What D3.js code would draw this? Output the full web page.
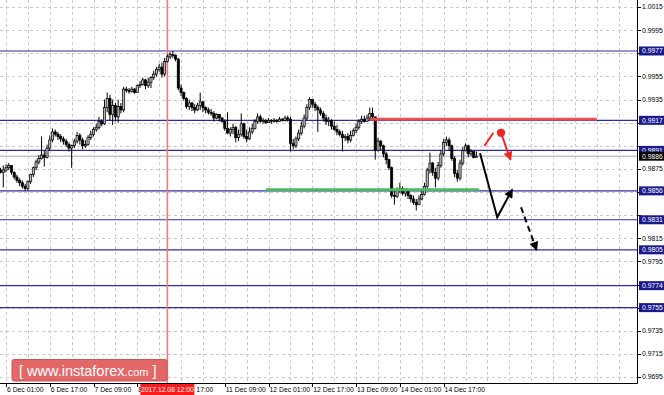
<!DOCTYPE html>
<html>
<head>
<meta charset="utf-8">
<script src="https://cdn.jsdelivr.net/npm/d3@7"></script>
<style>
    body { margin: 0; background: #fff; }
    svg { display: block; font-family: "Liberation Sans", Arial, sans-serif; }
</style>
</head>
<body>
<script>
// hourly candles, first one is bar -2 (5 Dec 23:00), open of that bar below
var firstBar = -2;
var firstOpen = 0.9874;

var closes = [
    0.9872, 0.9874, 0.9876, 0.9878, 0.9872, 0.9868, 0.9865, 0.9863, 0.9860, 0.9858,
    0.9864, 0.9870, 0.9876, 0.9881, 0.9884, 0.9887, 0.9885, 0.9893, 0.9900, 0.9907,
    0.9905, 0.9903, 0.9901, 0.9899, 0.9896, 0.9893, 0.9895, 0.9899, 0.9904, 0.9900,
    0.9895, 0.9896, 0.9902, 0.9905, 0.9909, 0.9911, 0.9916, 0.9914, 0.9928, 0.9936,
    0.9922, 0.9930, 0.9920, 0.9929, 0.9926, 0.9944, 0.9943, 0.9942, 0.9944, 0.9941,
    0.9947, 0.9948, 0.9952, 0.9947, 0.9950, 0.9954, 0.9957, 0.9961, 0.9963, 0.9957,
    0.9968, 0.9972, 0.9974, 0.9973, 0.9970, 0.9945, 0.9941, 0.9936, 0.9929, 0.9932,
    0.9928, 0.9926, 0.9930, 0.9933, 0.9928, 0.9926, 0.9924, 0.9923, 0.9919, 0.9922,
    0.9919, 0.9916, 0.9910, 0.9906, 0.9909, 0.9911, 0.9902, 0.9905, 0.9914, 0.9903,
    0.9901, 0.9907, 0.9910, 0.9916, 0.9920, 0.9916, 0.9917, 0.9915, 0.9917, 0.9916,
    0.9917, 0.9916, 0.9918, 0.9917, 0.9919, 0.9918, 0.9897, 0.9895, 0.9901, 0.9906,
    0.9912, 0.9919, 0.9928, 0.9935, 0.9931, 0.9928, 0.9926, 0.9923, 0.9919, 0.9916,
    0.9917, 0.9912, 0.9909, 0.9907, 0.9905, 0.9902, 0.9903, 0.9900, 0.9904, 0.9908,
    0.9911, 0.9916, 0.9918, 0.9916, 0.9919, 0.9923, 0.9920, 0.9891, 0.9899, 0.9895,
    0.9888, 0.9883, 0.9876, 0.9852, 0.9851, 0.9857, 0.9858, 0.9854, 0.9856, 0.9852,
    0.9849, 0.9846, 0.9844, 0.9849, 0.9853, 0.9860, 0.9874, 0.9880, 0.9872, 0.9867,
    0.9878, 0.9888, 0.9898, 0.9900, 0.9895, 0.9884, 0.9871, 0.9867, 0.9880, 0.9891,
    0.9895, 0.9888, 0.9890, 0.9885, 0.9886
];

var highs = [
    0.9876, 0.9878, 0.9879, 0.9880, 0.9878, 0.9873, 0.9870, 0.9867, 0.9865, 0.9862,
    0.9865, 0.9871, 0.9877, 0.9883, 0.9887, 0.9903, 0.9891, 0.9896, 0.9904, 0.9910,
    0.9909, 0.9907, 0.9905, 0.9903, 0.9901, 0.9898, 0.9896, 0.9901, 0.9907, 0.9906,
    0.9902, 0.9900, 0.9904, 0.9908, 0.9911, 0.9914, 0.9920, 0.9918, 0.9935, 0.9941,
    0.9939, 0.9935, 0.9932, 0.9935, 0.9932, 0.9946, 0.9946, 0.9945, 0.9946, 0.9945,
    0.9948, 0.9951, 0.9954, 0.9953, 0.9954, 0.9955, 0.9960, 0.9963, 0.9966, 0.9967,
    0.9971, 0.9974, 0.9976, 0.9977, 0.9974, 0.9971, 0.9948, 0.9942, 0.9937, 0.9935,
    0.9933, 0.9931, 0.9932, 0.9941, 0.9934, 0.9929, 0.9928, 0.9927, 0.9925, 0.9923,
    0.9922, 0.9920, 0.9918, 0.9924, 0.9911, 0.9914, 0.9912, 0.9909, 0.9923, 0.9915,
    0.9909, 0.9911, 0.9914, 0.9918, 0.9923, 0.9922, 0.9919, 0.9918, 0.9919, 0.9918,
    0.9919, 0.9918, 0.9920, 0.9919, 0.9921, 0.9921, 0.9920, 0.9901, 0.9903, 0.9909,
    0.9916, 0.9922, 0.9931, 0.9937, 0.9935, 0.9933, 0.9930, 0.9928, 0.9925, 0.9922,
    0.9920, 0.9918, 0.9916, 0.9913, 0.9909, 0.9908, 0.9905, 0.9906, 0.9908, 0.9910,
    0.9914, 0.9918, 0.9921, 0.9921, 0.9922, 0.9928, 0.9928, 0.9920, 0.9902, 0.9900,
    0.9896, 0.9890, 0.9884, 0.9877, 0.9858, 0.9859, 0.9863, 0.9860, 0.9858, 0.9857,
    0.9853, 0.9852, 0.9849, 0.9852, 0.9856, 0.9863, 0.9876, 0.9889, 0.9881, 0.9876,
    0.9881, 0.9891, 0.9901, 0.9903, 0.9902, 0.9896, 0.9886, 0.9874, 0.9883, 0.9894,
    0.9897, 0.9896, 0.9892, 0.9890, 0.9890
];

var lows = [
    0.9871, 0.9859, 0.9872, 0.9874, 0.9870, 0.9866, 0.9863, 0.9860, 0.9858, 0.9856,
    0.9856, 0.9862, 0.9868, 0.9874, 0.9879, 0.9883, 0.9877, 0.9884, 0.9891, 0.9898,
    0.9903, 0.9900, 0.9898, 0.9896, 0.9894, 0.9890, 0.9876, 0.9893, 0.9897, 0.9896,
    0.9892, 0.9893, 0.9895, 0.9900, 0.9903, 0.9907, 0.9909, 0.9912, 0.9913, 0.9924,
    0.9917, 0.9913, 0.9916, 0.9915, 0.9923, 0.9924, 0.9941, 0.9940, 0.9941, 0.9940,
    0.9941, 0.9945, 0.9947, 0.9944, 0.9945, 0.9945, 0.9952, 0.9955, 0.9959, 0.9954,
    0.9955, 0.9967, 0.9970, 0.9971, 0.9968, 0.9943, 0.9938, 0.9934, 0.9927, 0.9926,
    0.9925, 0.9923, 0.9925, 0.9926, 0.9924, 0.9923, 0.9922, 0.9921, 0.9916, 0.9918,
    0.9916, 0.9915, 0.9908, 0.9905, 0.9903, 0.9905, 0.9898, 0.9899, 0.9903, 0.9901,
    0.9898, 0.9900, 0.9905, 0.9909, 0.9914, 0.9915, 0.9914, 0.9914, 0.9915, 0.9914,
    0.9915, 0.9915, 0.9916, 0.9916, 0.9916, 0.9916, 0.9890, 0.9892, 0.9893, 0.9899,
    0.9904, 0.9910, 0.9917, 0.9926, 0.9928, 0.9925, 0.9907, 0.9921, 0.9916, 0.9913,
    0.9912, 0.9909, 0.9908, 0.9904, 0.9903, 0.9890, 0.9899, 0.9897, 0.9898, 0.9903,
    0.9906, 0.9909, 0.9914, 0.9915, 0.9916, 0.9917, 0.9917, 0.9883, 0.9890, 0.9891,
    0.9885, 0.9879, 0.9874, 0.9850, 0.9844, 0.9850, 0.9854, 0.9852, 0.9851, 0.9849,
    0.9846, 0.9844, 0.9839, 0.9845, 0.9848, 0.9852, 0.9857, 0.9871, 0.9869, 0.9859,
    0.9865, 0.9876, 0.9886, 0.9895, 0.9891, 0.9882, 0.9868, 0.9864, 0.9865, 0.9878,
    0.9890, 0.9885, 0.9886, 0.9884, 0.9885
];

var xTickBars = [0, 16, 32, 48, 64, 80, 96, 112, 128, 144, 160];
var xTickLabels = ["6 Dec 01:00", "6 Dec 17:00", "7 Dec 09:00", "8 Dec 01:00", "8 Dec 17:00",
    "11 Dec 09:00", "12 Dec 01:00", "12 Dec 17:00", "13 Dec 09:00", "14 Dec 01:00", "14 Dec 17:00"];
var yTickLabels = ["1.0015", "0.9995", "0.9975", "0.9955", "0.9935", "0.9915", "0.9895", "0.9875",
    "0.9855", "0.9835", "0.9815", "0.9795", "0.9775", "0.9755", "0.9735", "0.9715", "0.9695"];

var levelPrices = [0.9977, 0.9917, 0.9891, 0.9856, 0.9831, 0.9805, 0.9774, 0.9755];
var levelLabels = ["0.9977", "0.9917", "0.9891", "0.9856", "0.9831", "0.9805", "0.9774", "0.9755"];
var bidPrice = 0.9886;
var bidLabel = "0.9886";

var markerBar = 59;
var markerLabel = "2017.12.08 12:00";

// [bar, price] pairs
var resistanceLine = [[133, 0.9918], [216, 0.9918]];
var supportLine = [[95, 0.9857], [173, 0.9857]];
var mainPath = [[173.3, 0.98885], [179.6, 0.98331], [185.1, 0.98573]];
var dashPath = [[188.3, 0.98418], [194.0, 0.98048]];
var redPath = [[174.9, 0.98948], [178.2, 0.99063]];
var redArrow = [[181.0, 0.99062], [184.5, 0.98827]];

var W = 664, H = 395;
var plotRight = 637, plotBottom = 383;

var x = d3.scaleLinear()
    .domain([-2.194, 230.7])
    .range([0, plotRight]);

var y = d3.scaleLinear()
    .domain([0.96898, 1.00211])
    .range([plotBottom, 0]);

var svg = d3.select("body").append("svg")
    .attr("width", W)
    .attr("height", H);

svg.append("rect").attr("width", W).attr("height", H).attr("fill", "#fff");

var defs = svg.append("defs");
function arrowMarker(id, color) {
    defs.append("marker")
        .attr("id", id)
        .attr("viewBox", "0 0 10 10")
        .attr("refX", 9)
        .attr("refY", 5)
        .attr("markerUnits", "userSpaceOnUse")
        .attr("markerWidth", 10)
        .attr("markerHeight", 9)
        .attr("orient", "auto")
        .append("path")
        .attr("d", "M0,0 L10,5 L0,10 Z")
        .attr("fill", color);
}
arrowMarker("headBlack", "#000");
arrowMarker("headRed", "#ee2626");

// grid
var grid = svg.append("g");
var yTicks = yTickLabels.map(function (d) { return +d; });
grid.selectAll(".hgrid")
    .data(yTicks)
    .enter()
    .append("line")
    .attr("x1", 0)
    .attr("x2", plotRight)
    .attr("y1", function (d) { return Math.round(y(d)) + 0.5; })
    .attr("y2", function (d) { return Math.round(y(d)) + 0.5; })
    .attr("stroke", "#c8c8c8")
    .attr("stroke-dasharray", "3,3");

var gridBars = [];
for (var b = 0; x(b) < plotRight; b += 8) gridBars.push(b);
grid.selectAll(".vgrid")
    .data(gridBars)
    .enter()
    .append("line")
    .attr("x1", function (d) { return Math.round(x(d)) + 0.5; })
    .attr("x2", function (d) { return Math.round(x(d)) + 0.5; })
    .attr("y1", 0)
    .attr("y2", plotBottom)
    .attr("stroke", "#c8c8c8")
    .attr("stroke-dasharray", "3,3");

// level lines
svg.selectAll(".level")
    .data(levelPrices)
    .enter()
    .append("line")
    .attr("x1", 0)
    .attr("x2", plotRight)
    .attr("y1", function (d) { return y(d); })
    .attr("y2", function (d) { return y(d); })
    .attr("stroke", "#2c2ca0")
    .attr("stroke-width", 1.2);

svg.append("line")
    .attr("x1", 0).attr("x2", plotRight)
    .attr("y1", y(bidPrice)).attr("y2", y(bidPrice))
    .attr("stroke", "#c4c4c4")
    .attr("stroke-width", 1.5);

svg.append("line")
    .attr("x1", x(markerBar)).attr("x2", x(markerBar))
    .attr("y1", 0).attr("y2", plotBottom)
    .attr("stroke", "#f07a7a")
    .attr("stroke-width", 1.6);

// candles
var candles = closes.map(function (c, i) {
    return {
        bar: firstBar + i,
        open: i === 0 ? firstOpen : closes[i - 1],
        high: highs[i],
        low: lows[i],
        close: c
    };
});

var cg = svg.append("g");
cg.selectAll(".wick")
    .data(candles)
    .enter()
    .append("line")
    .attr("x1", function (d) { return x(d.bar); })
    .attr("x2", function (d) { return x(d.bar); })
    .attr("y1", function (d) { return y(d.high); })
    .attr("y2", function (d) { return y(d.low); })
    .attr("stroke", "#000")
    .attr("stroke-width", 1);

cg.selectAll(".body")
    .data(candles)
    .enter()
    .append("rect")
    .attr("x", function (d) { return x(d.bar) - 1.1; })
    .attr("width", 2.2)
    .attr("y", function (d) { return y(Math.max(d.open, d.close)); })
    .attr("height", function (d) { return Math.max(1, Math.abs(y(d.open) - y(d.close))); })
    .attr("fill", function (d) { return d.close >= d.open ? "#b8b8b8" : "#000"; })
    .attr("stroke", "#000")
    .attr("stroke-width", 0.7);

// drawn lines and arrows
var line = d3.line()
    .x(function (d) { return x(d[0]); })
    .y(function (d) { return y(d[1]); });

svg.append("path")
    .attr("d", line(resistanceLine))
    .attr("stroke", "#ea4f55")
    .attr("stroke-width", 3)
    .attr("fill", "none");

svg.append("path")
    .attr("d", line(supportLine))
    .attr("stroke", "#4cb865")
    .attr("stroke-width", 3)
    .attr("fill", "none");

svg.append("path")
    .attr("d", line(mainPath))
    .attr("stroke", "#000")
    .attr("stroke-width", 2)
    .attr("fill", "none")
    .attr("marker-end", "url(#headBlack)");

svg.append("path")
    .attr("d", line(dashPath))
    .attr("stroke", "#000")
    .attr("stroke-width", 2)
    .attr("stroke-dasharray", "6,4")
    .attr("fill", "none")
    .attr("marker-end", "url(#headBlack)");

svg.append("path")
    .attr("d", line(redPath))
    .attr("stroke", "#ee2626")
    .attr("stroke-width", 2)
    .attr("fill", "none");

svg.append("path")
    .attr("d", line(redArrow))
    .attr("stroke", "#ee2626")
    .attr("stroke-width", 2)
    .attr("fill", "none")
    .attr("marker-end", "url(#headRed)");

svg.append("circle")
    .attr("cx", x(redArrow[0][0]))
    .attr("cy", y(redArrow[0][1]))
    .attr("r", 4.2)
    .attr("fill", "#ee2626");

// logo
var logo = svg.append("g");
logo.append("rect")
    .attr("x", 12).attr("y", 359.5)
    .attr("width", 155).attr("height", 21.5)
    .attr("rx", 2)
    .attr("fill", "#e26868")
    .attr("stroke", "#cc5555");
var lt = logo.append("text")
    .attr("x", 19).attr("y", 375.5)
    .attr("fill", "#fff")
    .attr("font-size", 14.5);
lt.append("tspan").text("[ www.instaforex");
lt.append("tspan").attr("font-size", 11).text(".com");
lt.append("tspan").text(" ]");

// frame
svg.append("line")
    .attr("x1", plotRight + 0.5).attr("x2", plotRight + 0.5)
    .attr("y1", 0).attr("y2", plotBottom + 0.5)
    .attr("stroke", "#000");
svg.append("line")
    .attr("x1", 0).attr("x2", plotRight + 0.5)
    .attr("y1", plotBottom + 0.5).attr("y2", plotBottom + 0.5)
    .attr("stroke", "#000");

// right axis; tick labels sitting under a level box are hidden by it, so skip them
var ra = svg.append("g").attr("font-size", 6.8);
ra.selectAll(".ytick")
    .data(yTicks)
    .enter()
    .append("line")
    .attr("x1", plotRight).attr("x2", plotRight + 4)
    .attr("y1", function (d) { return Math.round(y(d)) + 0.5; })
    .attr("y2", function (d) { return Math.round(y(d)) + 0.5; })
    .attr("stroke", "#000");

var boxPrices = levelPrices.concat([bidPrice]);
var shownTicks = yTickLabels.filter(function (t) {
    return boxPrices.every(function (p) { return Math.abs(y(+t) - y(p)) >= 9; });
});
ra.selectAll(".ylab")
    .data(shownTicks)
    .enter()
    .append("text")
    .attr("x", plotRight + 5)
    .attr("y", function (d) { return y(+d) + 2.4; })
    .attr("fill", "#000")
    .text(function (d) { return d; });

function priceBox(price, label, color) {
    ra.append("rect")
        .attr("x", plotRight + 2).attr("y", y(price) - 4.5)
        .attr("width", 25).attr("height", 9)
        .attr("fill", color);
    ra.append("text")
        .attr("x", plotRight + 5).attr("y", y(price) + 2.4)
        .attr("fill", "#fff")
        .text(label);
}
levelPrices.forEach(function (p, i) { priceBox(p, levelLabels[i], "#1a1a8c"); });
priceBox(bidPrice, bidLabel, "#000");

// bottom axis; the marker box covers the 8 Dec labels, keep what sticks out of it
var ba = svg.append("g").attr("font-size", 6.8);
ba.selectAll(".xtick")
    .data(xTickBars)
    .enter()
    .append("line")
    .attr("x1", function (d) { return Math.round(x(d)) + 0.5; })
    .attr("x2", function (d) { return Math.round(x(d)) + 0.5; })
    .attr("y1", plotBottom).attr("y2", plotBottom + 4)
    .attr("stroke", "#000");

var boxLeft = x(markerBar) - 27, boxRight = x(markerBar) + 27;
var xLabels = [];
xTickBars.forEach(function (bar, i) {
    var lx = x(bar) + 1;
    if (lx >= boxLeft - 2 && lx < boxRight) {
        if (lx + 40 > boxRight + 6) {
            xLabels.push({ x: boxRight + 2, text: xTickLabels[i].split(" ").pop() });
        }
    } else {
        xLabels.push({ x: lx, text: xTickLabels[i] });
    }
});
ba.selectAll(".xlab")
    .data(xLabels)
    .enter()
    .append("text")
    .attr("x", function (d) { return d.x; })
    .attr("y", 392)
    .attr("fill", "#000")
    .text(function (d) { return d.text; });

ba.append("rect")
    .attr("x", boxLeft).attr("y", 384)
    .attr("width", 54).attr("height", 11)
    .attr("fill", "#ff1a1a");
ba.append("text")
    .attr("x", x(markerBar)).attr("y", 392)
    .attr("text-anchor", "middle")
    .attr("fill", "#fff")
    .text(markerLabel);
</script>
</body>
</html>
